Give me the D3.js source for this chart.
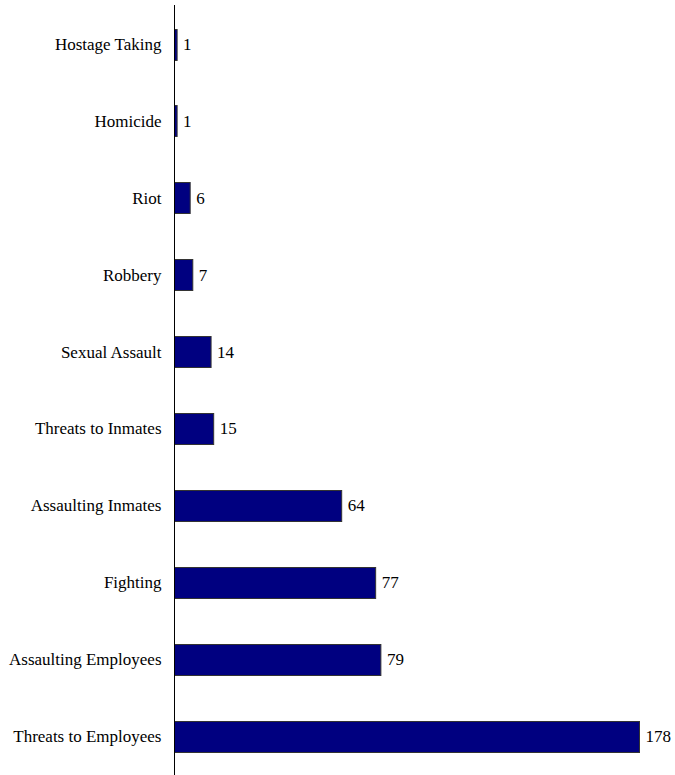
<!DOCTYPE html>
<html>
	<head>
		<meta charset="utf-8">
		<title>Incidents</title>
		<script src="https://d3js.org/d3.v7.min.js"></script>
		<style>
			body { margin: 0; background: #fff; }
		</style>
	</head>
	<body>
		<script>

		// categories top to bottom, and their counts
		var categories = ["Hostage Taking", "Homicide", "Riot", "Robbery", "Sexual Assault",
			"Threats to Inmates", "Assaulting Inmates", "Fighting", "Assaulting Employees", "Threats to Employees"];
		var counts = [1, 1, 6, 7, 14, 15, 64, 77, 79, 178];

		var width = 675, height = 775;
		var left = 174.5;

		var svg = d3.select("body").append("svg")
			.attr("width", width)
			.attr("height", height);

		var x = d3.scaleLinear()
			.domain([0, 178])
			.range([left, 639.5]);

		var y = d3.scaleBand()
			.domain(categories)
			.range([5.5, 774.5])
			.paddingInner(0.6)
			.paddingOuter(0.3);

		var data = categories.map(function(c, i){ return {name: c, value: counts[i]}; });

		// bars
		svg.selectAll("rect").data(data)
			.enter().append("rect")
			.attr("x", x(0))
			.attr("y", function(d){ return Math.round(y(d.name)) + 0.5; })
			.attr("width", function(d){ return x(d.value) - x(0); })
			.attr("height", Math.round(y.bandwidth()))
			.attr("fill", "#000080")
			.attr("stroke", "#333")
			.attr("stroke-width", 1);

		// value labels
		svg.selectAll("text.val").data(data)
			.enter().append("text")
			.attr("class", "val")
			.attr("x", function(d){ return x(d.value) + 6; })
			.attr("y", function(d){ return y(d.name) + y.bandwidth() / 2; })
			.attr("dy", "0.35em")
			.style("font-family", "Liberation Serif, Times New Roman, serif")
			.style("font-size", "17px")
			.text(function(d){ return d.value; });

		// category labels
		svg.selectAll("text.cat").data(data)
			.enter().append("text")
			.attr("class", "cat")
			.attr("x", left - 13)
			.attr("y", function(d){ return y(d.name) + y.bandwidth() / 2; })
			.attr("dy", "0.35em")
			.attr("text-anchor", "end")
			.style("font-family", "Liberation Serif, Times New Roman, serif")
			.style("font-size", "17px")
			.text(function(d){ return d.name; });

		// vertical axis line
		svg.append("line")
			.attr("x1", left).attr("x2", left)
			.attr("y1", 5).attr("y2", 775)
			.attr("stroke", "#000")
			.attr("stroke-width", 1);

		</script>
	</body>
</html>
